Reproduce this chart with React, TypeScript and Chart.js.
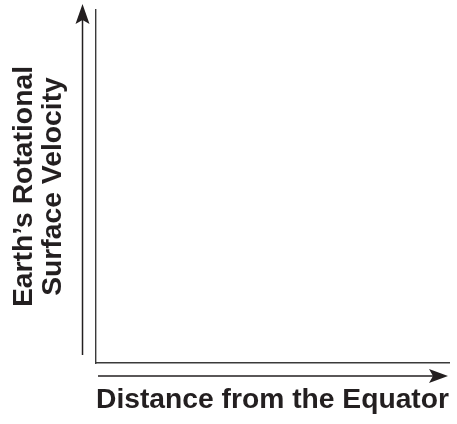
import React, { useEffect, useRef } from "react";
import { Chart, registerables } from "chart.js";

Chart.register(...registerables);

// ---- Data (the reference is an empty, unlabelled sketch of axes) ----
const xAxisTitle: string = "Distance from the Equator";
const yAxisTitle: string[] = ["Earth\u2019s Rotational", "Surface Velocity"];
const xValues: number[] = [];
const yValues: number[] = [];
const xRange: number[] = [0, 10];
const yRange: number[] = [0, 10];

const INK = "#231f20";
const FONT_FAMILY = "Liberation Sans, Arial, Helvetica, sans-serif";

function drawArrow(
  ctx: CanvasRenderingContext2D,
  x1: number,
  y1: number,
  x2: number,
  y2: number,
  headLen: number,
  headHalf: number,
  notch: number
) {
  const ang = Math.atan2(y2 - y1, x2 - x1);
  const cos = Math.cos(ang);
  const sin = Math.sin(ang);
  ctx.beginPath();
  ctx.moveTo(x1, y1);
  ctx.lineTo(x2 - cos * (headLen - notch), y2 - sin * (headLen - notch));
  ctx.stroke();
  const bx = x2 - cos * headLen;
  const by = y2 - sin * headLen;
  const nx = x2 - cos * (headLen - notch);
  const ny = y2 - sin * (headLen - notch);
  ctx.beginPath();
  ctx.moveTo(x2, y2);
  ctx.lineTo(bx - sin * headHalf, by + cos * headHalf);
  ctx.lineTo(nx, ny);
  ctx.lineTo(bx + sin * headHalf, by - cos * headHalf);
  ctx.closePath();
  ctx.fill();
}

const axisArrowsPlugin = {
  id: "axisArrows",
  afterDraw(chart: any) {
    const ctx: CanvasRenderingContext2D = chart.ctx;
    const a = chart.chartArea;
    ctx.save();
    ctx.strokeStyle = INK;
    ctx.fillStyle = INK;
    ctx.lineWidth = 1.5;
    const vx = a.left - 13.5;
    drawArrow(ctx, vx, a.bottom - 8, vx, a.top - 6, 20, 7, 4);
    const hy = a.bottom + 13;
    drawArrow(ctx, a.left + 2, hy, a.right - 1, hy, 19, 7, 4);
    ctx.restore();
  },
};

export default function App() {
  const canvasRef = useRef<HTMLCanvasElement | null>(null);

  useEffect(() => {
    if (!canvasRef.current) return;
    const points = xValues.map((x, i) => ({ x, y: yValues[i] }));
    const chart = new Chart(canvasRef.current, {
      type: "scatter",
      data: {
        datasets: [
          {
            label: "series",
            data: points,
            pointRadius: 0,
            showLine: false,
          },
        ],
      },
      options: {
        animation: false,
        responsive: true,
        maintainAspectRatio: false,
        layout: {
          padding: { top: 10, right: 8, bottom: 0, left: 0 },
        },
        plugins: {
          legend: { display: false },
          tooltip: { enabled: false },
          title: { display: false },
        },
        scales: {
          x: {
            type: "linear",
            position: "bottom",
            min: xRange[0],
            max: xRange[1],
            grid: { display: false, drawTicks: false },
            ticks: { display: false },
            border: { display: true, color: "#3a3a3a", width: 1.4 },
            title: {
              display: true,
              text: xAxisTitle,
              align: "end",
              color: INK,
              font: { family: FONT_FAMILY, size: 28.3, weight: 700, lineHeight: 1.2 },
              padding: { top: 20.5, bottom: 6.5 },
            },
          },
          y: {
            type: "linear",
            position: "left",
            min: yRange[0],
            max: yRange[1],
            grid: { display: false, drawTicks: false },
            ticks: { display: false },
            border: { display: true, color: "#3a3a3a", width: 1.4 },
            title: {
              display: true,
              text: yAxisTitle,
              align: "center",
              color: INK,
              font: { family: FONT_FAMILY, size: 28.3, weight: 700, lineHeight: 1.025 },
              padding: { top: 9.5, bottom: 28.5 },
            },
          },
        },
      },
      plugins: [axisArrowsPlugin],
    });
    return () => chart.destroy();
  }, []);

  return (
    <div style={{ position: "absolute", left: 0, top: 0, width: 457, height: 424, background: "#ffffff" }}>
      <canvas ref={canvasRef} />
    </div>
  );
}
